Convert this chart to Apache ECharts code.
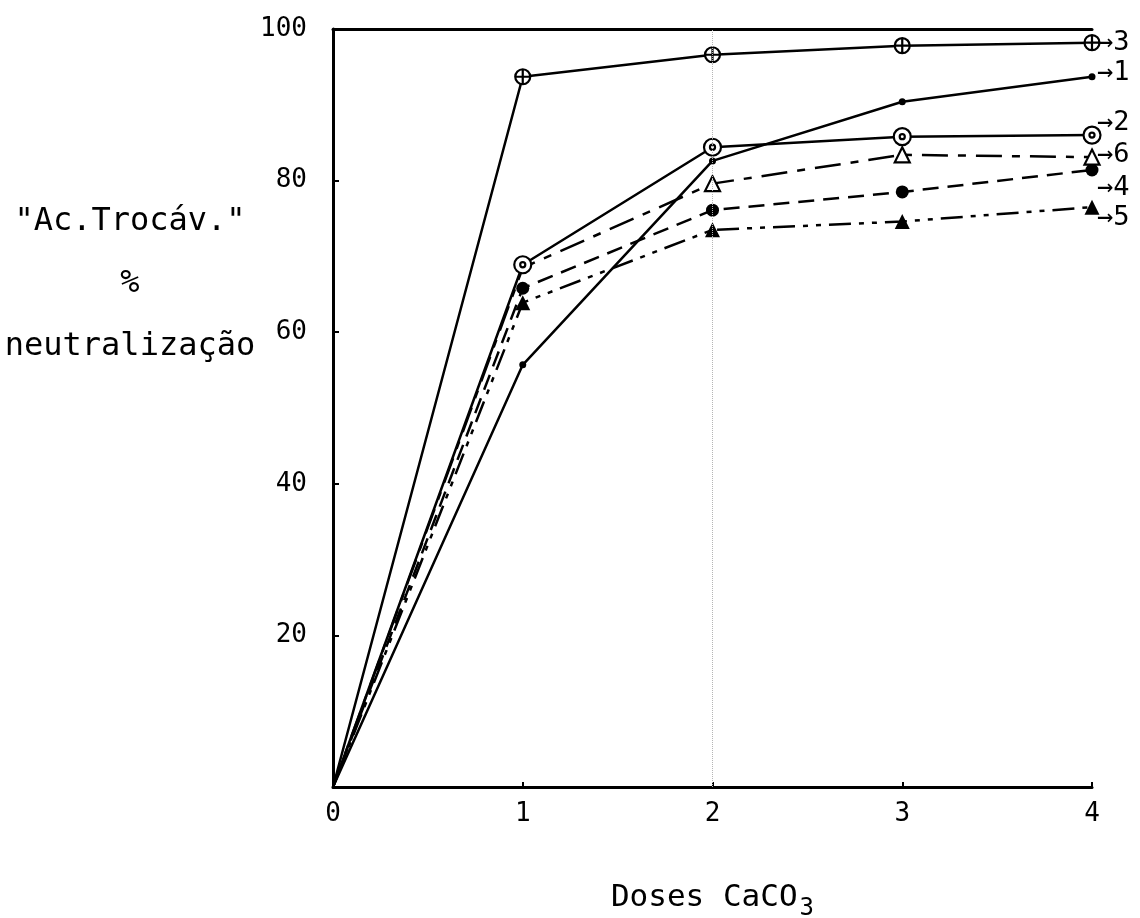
<!DOCTYPE html>
<html>
<head>
<meta charset="utf-8">
<script src="https://cdn.jsdelivr.net/npm/echarts@6/dist/echarts.min.js"></script>
<style>
  html, body { margin: 0; padding: 0; background: #fff; }
  #chart { width: 1140px; height: 918px; }
</style>
</head>
<body>
<div id="chart"></div>
<script>
// doses of CaCO3 (x) and % neutralization per curve
const doses = [0, 1, 2, 3, 4];
const curve1 = [0, 55.7, 82.6, 90.4, 93.7];
const curve2 = [0, 68.9, 84.4, 85.8, 86.0];
const curve3 = [0, 93.7, 96.6, 97.8, 98.2];
const curve4 = [0, 65.8, 76.1, 78.5, 81.4];
const curve5 = [0, 63.9, 73.5, 74.6, 76.5];
const curve6 = [0, 68.5, 79.6, 83.4, 83.1];
const curveNames = ['3', '1', '2', '6', '4', '5'];
const yTitleLines = ['"Ac.Trocáv."', '%', 'neutralização'];

const FONT = "'DejaVu Sans Mono', monospace";
const CROSS_CIRCLE = 'path://M10,0A10,10,0,1,1,10,20A10,10,0,1,1,10,0ZM10,0L10,20M0,10L20,10';
const DOT_CIRCLE = 'path://M10,0A10,10,0,1,1,10,20A10,10,0,1,1,10,0ZM10,7A3,3,0,1,1,10,13A3,3,0,1,1,10,7Z';

function makeSeries(name, values, opts) {
  const data = values.map((v, i) => {
    const item = { value: [doses[i], v] };
    if (i === 0 || (opts.skip && opts.skip.indexOf(i) >= 0)) item.symbol = 'none';
    return item;
  });
  return {
    name: name,
    type: 'line',
    data: data,
    symbol: opts.symbol,
    symbolSize: opts.size,
    showAllSymbol: true,
    lineStyle: { color: '#000', width: 2.5, type: opts.dash || 'solid' },
    itemStyle: {
      color: opts.fill || '#000',
      borderColor: '#000',
      borderWidth: opts.border || 0
    },
    endLabel: {
      show: true,
      formatter: '→' + name,
      color: '#000',
      fontFamily: FONT,
      fontSize: 27,
      distance: 3,
      offset: opts.labelOffset || [0, 0]
    },
    z: opts.z || 2
  };
}

// y-axis title, three centred lines left of the axis
const yTitle = yTitleLines.map((t, i) => ({
  type: 'text',
  x: 130,
  y: [222, 284, 347][i],
  style: {
    text: t,
    fontFamily: FONT,
    fontSize: 32,
    align: 'center',
    verticalAlign: 'middle',
    fill: '#000'
  }
}));

const chart = echarts.init(document.getElementById('chart'), null, { renderer: 'canvas' });

const option = {
  backgroundColor: '#fff',
  animation: false,
  grid: { left: 333, right: 48, top: 29, bottom: 131, outerBoundsMode: 'none', containLabel: false },
  graphic: yTitle,
  xAxis: [{
    type: 'value',
    min: 0,
    max: 4,
    interval: 1,
    name: 'Doses CaCO{sub|3}',
    nameLocation: 'middle',
    nameGap: 88,
    nameTextStyle: {
      color: '#000',
      fontFamily: FONT,
      fontSize: 31,
      rich: { sub: { fontFamily: FONT, fontSize: 24, verticalAlign: 'bottom', padding: [22, 0, 0, 2] } }
    },
    axisLine: { lineStyle: { color: '#000', width: 3 } },
    axisTick: { inside: true, length: 5, lineStyle: { color: '#000', width: 2 } },
    axisLabel: { color: '#000', fontFamily: FONT, fontSize: 26, margin: 14 },
    splitLine: { show: false }
  }, {
    type: 'value',
    position: 'top',
    min: 0,
    max: 4,
    axisLine: { show: true, onZero: false, lineStyle: { color: '#000', width: 3 } },
    axisTick: { show: false },
    axisLabel: { show: false },
    splitLine: { show: false }
  }],
  yAxis: {
    type: 'value',
    min: 0,
    max: 100,
    interval: 20,
    axisLine: { show: true, lineStyle: { color: '#000', width: 3 } },
    axisTick: { show: true, inside: true, length: 6, lineStyle: { color: '#000', width: 2 } },
    axisLabel: {
      color: '#000',
      fontFamily: FONT,
      fontSize: 26,
      margin: 26,
      formatter: v => (v === 0 ? '' : String(v))
    },
    splitLine: { show: false }
  },
  series: [
    Object.assign(makeSeries(curveNames[0], curve3, {
      symbol: CROSS_CIRCLE, size: 15, fill: '#fff', border: 2.2, labelOffset: [2, 0], z: 4
    }), {
      markLine: {
        silent: true,
        symbol: 'none',
        label: { show: false },
        lineStyle: { color: '#b5b5b5', width: 1, type: 'dotted' },
        data: [{ xAxis: doses[2] }]
      }
    }),
    makeSeries(curveNames[1], curve1, { symbol: 'circle', size: 7, labelOffset: [2, -4] }),
    makeSeries(curveNames[2], curve2, { symbol: DOT_CIRCLE, size: 17, fill: '#fff', border: 2.2, labelOffset: [2, -12], z: 4 }),
    makeSeries(curveNames[3], curve6, { symbol: 'triangle', size: 15, fill: '#fff', border: 2.2, dash: [26, 10, 8, 10], skip: [1], labelOffset: [2, -2], z: 3 }),
    makeSeries(curveNames[4], curve4, { symbol: 'circle', size: 13, dash: [16, 9], labelOffset: [2, 18] }),
    makeSeries(curveNames[5], curve5, { symbol: 'triangle', size: 15, dash: [22, 8, 5, 8, 5, 8], labelOffset: [2, 11] })
  ]
};

chart.setOption(option);
</script>
</body>
</html>
